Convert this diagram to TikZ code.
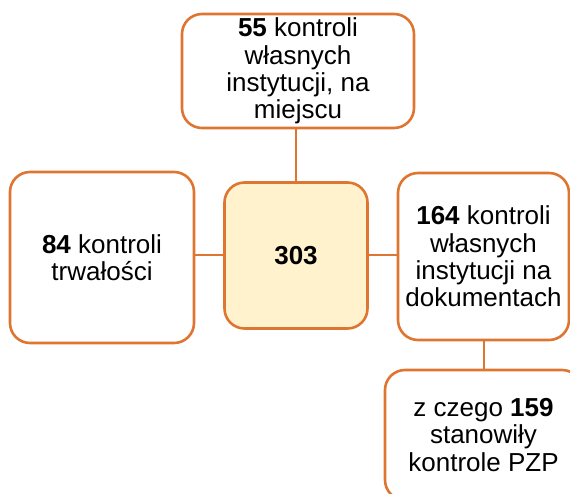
\documentclass[tikz,border=0pt]{standalone}
\usepackage{fontspec}
\setmainfont{Liberation Sans}
\usepackage{tikz}
\usepackage{xcolor}
\usetikzlibrary{positioning,calc}
\definecolor{rim}{HTML}{DE7631}
\definecolor{sun}{HTML}{FFF2CC}
\tikzset{
  countbox/.style={draw=rim,fill=white,line width=2.6pt,rounded corners=20pt,
                   align=center,inner sep=2pt,
                   font=\fontsize{26}{27.3}\selectfont},
  totalbox/.style={countbox,fill=sun,font=\fontsize{26}{27.3}\selectfont\bfseries},
  link/.style={draw=rim,line width=2pt}
}
\begin{document}
\begin{tikzpicture}[x=1pt,y=-1pt]
  \clip (0,0) rectangle (570,494);
  % centre and the four counts
  \node[totalbox,minimum width=143pt,minimum height=146pt] (total) at (296,255.5) {303};
  \node[countbox,minimum width=232pt,minimum height=114pt] (onsite) at (298,71)
    {\textbf{55} kontroli\\własnych\\instytucji, na\\miejscu};
  \node[countbox,minimum width=184pt,minimum height=171pt] (durability) at (102,257.5)
    {\textbf{84} kontroli\\trwałości};
  \node[countbox,minimum width=171pt,minimum height=167pt] (docs) at (483.5,256.5)
    {\textbf{164} kontroli\\własnych\\instytucji na\\dokumentach};
  \node[countbox,minimum width=197pt,minimum height=130pt] (pzp) at (483.5,435)
    {z czego \textbf{159}\\stanowiły\\kontrole PZP};

  % connectors
  \draw[link] (total.north) -- (total.north |- onsite.south);
  \draw[link] (total.west) -- (total.west -| durability.east);
  \draw[link] (total.east) -- (total.east -| docs.west);
  \draw[link] (docs.south) -- (pzp.north);
\end{tikzpicture}
\end{document}
